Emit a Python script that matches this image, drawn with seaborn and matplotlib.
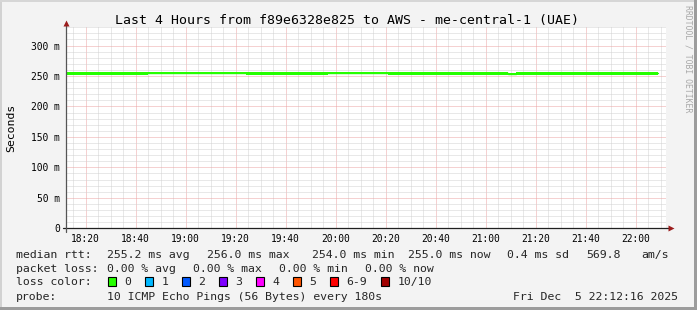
import numpy as np
import pandas as pd
import matplotlib
matplotlib.use("Agg")
import matplotlib.pyplot as plt
import seaborn as sns
from matplotlib.patches import Rectangle

# ---------------- data ----------------
title = "Last 4 Hours from f89e6328e825 to AWS - me-central-1 (UAE)"
window_start = "18:12:16"
window_end = "22:12:16"
seg_times = ["18:12:16", "18:45:00", "19:24:00", "19:57:00", "20:21:00",
             "21:09:00", "21:12:00", "22:09:00"]
median_ms = [254.2, 255.6, 254.2, 255.6, 254.2, 253.4, 254.2, 254.2]
rtt_hi_ms = [256.6, 256.6, 256.6, 256.6, 256.6, 255.0, 256.6, 256.6]
rtt_lo_ms = [251.8, 253.4, 251.8, 253.4, 251.8, 251.8, 251.8, 251.8]
x_tick_labels = ["18:20", "18:40", "19:00", "19:20", "19:40", "20:00",
                 "20:20", "20:40", "21:00", "21:20", "21:40", "22:00"]
y_ticks_ms = [0, 50, 100, 150, 200, 250, 300]
y_tick_labels = ["0", "50 m", "100 m", "150 m", "200 m", "250 m", "300 m"]
y_max_ms = 331
y_label = "Seconds"

rtt_row = [("median rtt:", 16), ("255.2 ms avg", 107.3), ("256.0 ms max", 207.3),
           ("254.0 ms min", 312.3), ("255.0 ms now", 407.7), ("0.4 ms sd", 506.7),
           ("569.8", 586), ("am/s", 641.7)]
loss_row = [("packet loss:", 16), ("0.00 % avg", 107.3), ("0.00 % max", 193.3),
            ("0.00 % min", 279.3), ("0.00 % now", 365)]
loss_labels = ["0", "1", "2", "3", "4", "5", "6-9", "10/10"]
loss_colors = ["#26ff00", "#00b8ff", "#0059ff", "#7e00ff", "#ff00ff",
               "#ff5500", "#ff0000", "#a00000"]
loss_box_x = [107.7, 145, 182, 219, 256, 292.5, 330, 381]
probe_row = [("probe:", 16), ("10 ICMP Echo Pings (56 Bytes) every 180s", 107.3),
             ("Fri Dec  5 22:12:16 2025", 513.3)]
credit = "RRDTOOL / TOBI OETIKER"

# ---------------- helpers ----------------
W, H = 697, 310


def tmin(s):
    p = [int(v) for v in s.split(":")]
    return p[0] * 60 + p[1] + (p[2] / 60 if len(p) > 2 else 0)


def fx(x):
    return x / W


def fy(y):
    return 1 - y / H


sns.set_style("white")
plt.rcParams["font.family"] = ["DejaVu Sans Mono"]

fig = plt.figure(figsize=(W / 100, H / 100), dpi=100, facecolor="#f3f3f3")

# frame of the picture
for (x0, y0, w, h, c) in [(0, 0, 2.3, 310, "#d2d2d2"), (0, 0, 697, 2, "#d6d6d6"),
                          (693.5, 0, 3.5, 310, "#9c9c9c"), (0, 306.7, 697, 3.3, "#9c9c9c")]:
    fig.patches.append(Rectangle((fx(x0), fy(y0 + h)), w / W, h / H,
                                 transform=fig.transFigure, facecolor=c,
                                 edgecolor="none", zorder=0))

ax_l, ax_r, ax_t, ax_b = 66.3, 666.3, 26.7, 228.3
ax = fig.add_axes([fx(ax_l), fy(ax_b), (ax_r - ax_l) / W, (ax_b - ax_t) / H])
ax.set_facecolor("white")

df = pd.DataFrame({"t": [tmin(s) for s in seg_times], "median": median_ms,
                   "hi": rtt_hi_ms, "lo": rtt_lo_ms})
ax.fill_between(df["t"], df["lo"], df["hi"], step="post", color="#26ff00",
                lw=0, zorder=5)
sns.lineplot(data=df, x="t", y="median", drawstyle="steps-post", color="#26ff00",
             lw=1.0, ax=ax, zorder=6)

x0m, x1m = tmin(window_start), tmin(window_end)
ax.set_xlim(x0m, x1m)
ax.set_ylim(0, y_max_ms)

major_x = [tmin(s) for s in x_tick_labels]
ax.set_xticks(major_x)
ax.set_xticklabels(x_tick_labels)
minor_x = np.arange(np.ceil(x0m / 5) * 5, x1m, 5)
ax.set_xticks(minor_x, minor=True)
ax.set_yticks(y_ticks_ms)
ax.set_yticklabels(y_tick_labels)
ax.set_yticks(np.arange(0, y_max_ms, 10), minor=True)

ax.grid(which="minor", color="#d2d2d2", ls=(0, (1, 1)), lw=0.72, zorder=1)
ax.grid(which="major", color="#eca4a4", ls=(0, (1, 1)), lw=0.72, zorder=2)
ax.set_axisbelow(True)

ax.tick_params(which="major", direction="out", length=2.2, width=0.72,
               color="#d08080", labelsize=6.95, pad=2.4, labelcolor="black")
ax.tick_params(which="minor", direction="out", length=1.5, width=0.72,
               color="#a0a0a0")
ax.tick_params(axis="x", which="major", pad=1.6)
ax.set_xlabel("")
ax.set_ylabel("")

for sp in ax.spines.values():
    sp.set_visible(False)


def apx(x, y):
    return (x - ax_l) / (ax_r - ax_l), (ax_b - y) / (ax_b - ax_t)


xa0, ya0 = apx(63, ax_b)
xa1, _ = apx(669.5, ax_b)
ax.plot([xa0, xa1], [0, 0], color="#202020", lw=0.9, transform=ax.transAxes,
        clip_on=False, zorder=10)
_, yb0 = apx(ax_l, 231.5)
_, yb1 = apx(ax_l, 23)
ax.plot([0, 0], [yb0, yb1], color="#555555", lw=0.9, transform=ax.transAxes,
        clip_on=False, zorder=10)
xr, _ = apx(671.2, ax_b)
ax.plot([xr], [0], marker=">", ms=4.6, color="#9b1c1c", mec="none",
        transform=ax.transAxes, clip_on=False, zorder=11)
_, yt = apx(ax_l, 23)
ax.plot([0], [yt], marker="^", ms=4.6, color="#9b1c1c", mec="none",
        transform=ax.transAxes, clip_on=False, zorder=11)

# title and side texts
fig.text(fx(347), fy(23.7), title, ha="center", va="baseline", fontsize=9.55,
         color="black")
fig.text(fx(10.8), fy(127.5), y_label, rotation=90, ha="center", va="center",
         fontsize=8.25, color="black")
fig.text(fx(687.7), fy(5), credit, rotation=270, ha="center", va="top",
         fontsize=5.9, color="#a8a8a8")

# legend rows
LEG = 8.25
for txt, x in rtt_row:
    fig.text(fx(x), fy(257.6), txt, ha="left", va="baseline", fontsize=LEG)
for txt, x in loss_row:
    fig.text(fx(x), fy(271.8), txt, ha="left", va="baseline", fontsize=LEG)
fig.text(fx(16), fy(285.4), "loss color:", ha="left", va="baseline", fontsize=LEG)
for lab, col, bx in zip(loss_labels, loss_colors, loss_box_x):
    fig.patches.append(Rectangle((fx(bx), fy(285.7)), 8.3 / W, 8.5 / H,
                                 transform=fig.transFigure, facecolor=col,
                                 edgecolor="black", lw=0.8, zorder=3))
    fig.text(fx(bx + 16.3), fy(285.4), lab, ha="left", va="baseline", fontsize=LEG)
for txt, x in probe_row:
    fig.text(fx(x), fy(299.8), txt, ha="left", va="baseline", fontsize=LEG)

fig.savefig("out.png", dpi=100, facecolor=fig.get_facecolor())
